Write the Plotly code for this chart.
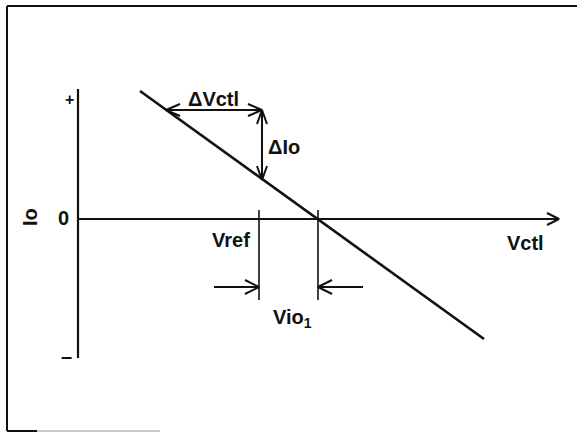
import plotly.graph_objects as go

# Transfer characteristic Io vs Vctl (arbitrary units, origin at the axes crossing)
transfer_vctl = [62, 406]
transfer_io = [128, -120]

# Axes extents
io_axis = [130, -139]          # Io axis from "+" to "-"
vctl_axis = [0, 481]           # Vctl axis, arrow at the far end

# Reference voltage and zero-current crossing (Vref + Vio1)
v_ref = 181
v_zero = 240
marker_io = [9, -81]           # vertical extent of the Vref / Vio1 marks
offset_arrow_io = -68
offset_arrow_len = 45

# Slope indicator: ΔVctl and ΔIo
dvctl_io = 109
dvctl_v = [88, 184]
dio_io = [109, 39]

BLACK = "#111111"
FONT = "Arial, Liberation Sans, Helvetica, sans-serif"

fig = go.Figure()


def seg(xs, ys, width=2.0):
    fig.add_trace(go.Scatter(x=xs, y=ys, mode="lines",
                             line=dict(color=BLACK, width=width),
                             hoverinfo="skip", showlegend=False))


def head(tip_x, tip_y, dx, dy, length=12, spread=6, width=2.0):
    # open "V" arrowhead; (dx, dy) is the direction the arrow points
    px, py = -dy, dx
    xs = [tip_x - length * dx + spread * px, tip_x, tip_x - length * dx - spread * px]
    ys = [tip_y - length * dy + spread * py, tip_y, tip_y - length * dy - spread * py]
    seg(xs, ys, width)


# axes
seg([0, 0], io_axis, 2.2)
seg(vctl_axis, [0, 0], 2.2)
head(vctl_axis[1], 0, 1, 0, 12, 6)

# transfer line
seg(transfer_vctl, transfer_io, 2.6)

# Vref / zero-crossing markers and the Vio1 offset arrows
seg([v_ref, v_ref], marker_io, 1.6)
seg([v_zero, v_zero], marker_io, 1.6)
seg([v_ref - offset_arrow_len, v_ref], [offset_arrow_io] * 2, 2.0)
head(v_ref, offset_arrow_io, 1, 0, 14, 7)
seg([v_zero + offset_arrow_len, v_zero], [offset_arrow_io] * 2, 2.0)
head(v_zero, offset_arrow_io, -1, 0, 14, 7)

# ΔVctl (double-headed, horizontal)
seg(dvctl_v, [dvctl_io] * 2, 2.0)
head(dvctl_v[0], dvctl_io, -1, 0, 14, 6)
head(dvctl_v[1], dvctl_io, 1, 0, 14, 6)

# ΔIo (double-headed, vertical)
seg([dvctl_v[1]] * 2, dio_io, 2.0)
head(dvctl_v[1], dio_io[0], 0, 1, 14, 5)
head(dvctl_v[1], dio_io[1], 0, -1, 14, 5)

labels = [
    ("<b>+</b>", -9, 120, 16, 0),
    ("<b>0</b>", -15, 1, 20, 0),
    ("<b>Io</b>", -48, 2, 20, -90),
    ("<b>\u2013</b>", -12, -137, 20, 0),
    ("<b>Vref</b>", 153, -21, 20, 0),
    ("<b>Vctl</b>", 447, -24, 20, 0),
    ("<b>\u0394Vctl</b>", 135, 120, 20, 0),
    ("<b>\u0394Io</b>", 206, 72, 20, 0),
    ("<b>Vio<sub>1</sub></b>", 214, -99, 20, 0),
]
for text, x, y, size, ang in labels:
    fig.add_annotation(x=x, y=y, xref="x", yref="y", text=text, showarrow=False,
                       textangle=ang, font=dict(family=FONT, size=size, color=BLACK),
                       xanchor="center", yanchor="middle")

# outer frame
fig.add_shape(type="line", xref="paper", yref="paper", x0=7 / 577, x1=1.0,
              y0=1 - 6 / 432, y1=1 - 6 / 432, line=dict(color=BLACK, width=2))
fig.add_shape(type="line", xref="paper", yref="paper", x0=7 / 577, x1=7 / 577,
              y0=1 - 6 / 432, y1=1 - 431 / 432, line=dict(color=BLACK, width=2))
fig.add_shape(type="line", xref="paper", yref="paper", x0=7 / 577, x1=37 / 577,
              y0=1 - 431 / 432, y1=1 - 431 / 432, line=dict(color=BLACK, width=2))
fig.add_shape(type="line", xref="paper", yref="paper", x0=37 / 577, x1=160 / 577,
              y0=1 - 431 / 432, y1=1 - 431 / 432, line=dict(color="#cccccc", width=2))

fig.update_layout(
    width=577, height=432,
    margin=dict(l=0, r=0, t=0, b=0),
    paper_bgcolor="white", plot_bgcolor="white",
    xaxis=dict(range=[-78, 499], visible=False, fixedrange=True),
    yaxis=dict(range=[-213, 219], visible=False, fixedrange=True),
    showlegend=False,
)

fig.write_html("out.html")
